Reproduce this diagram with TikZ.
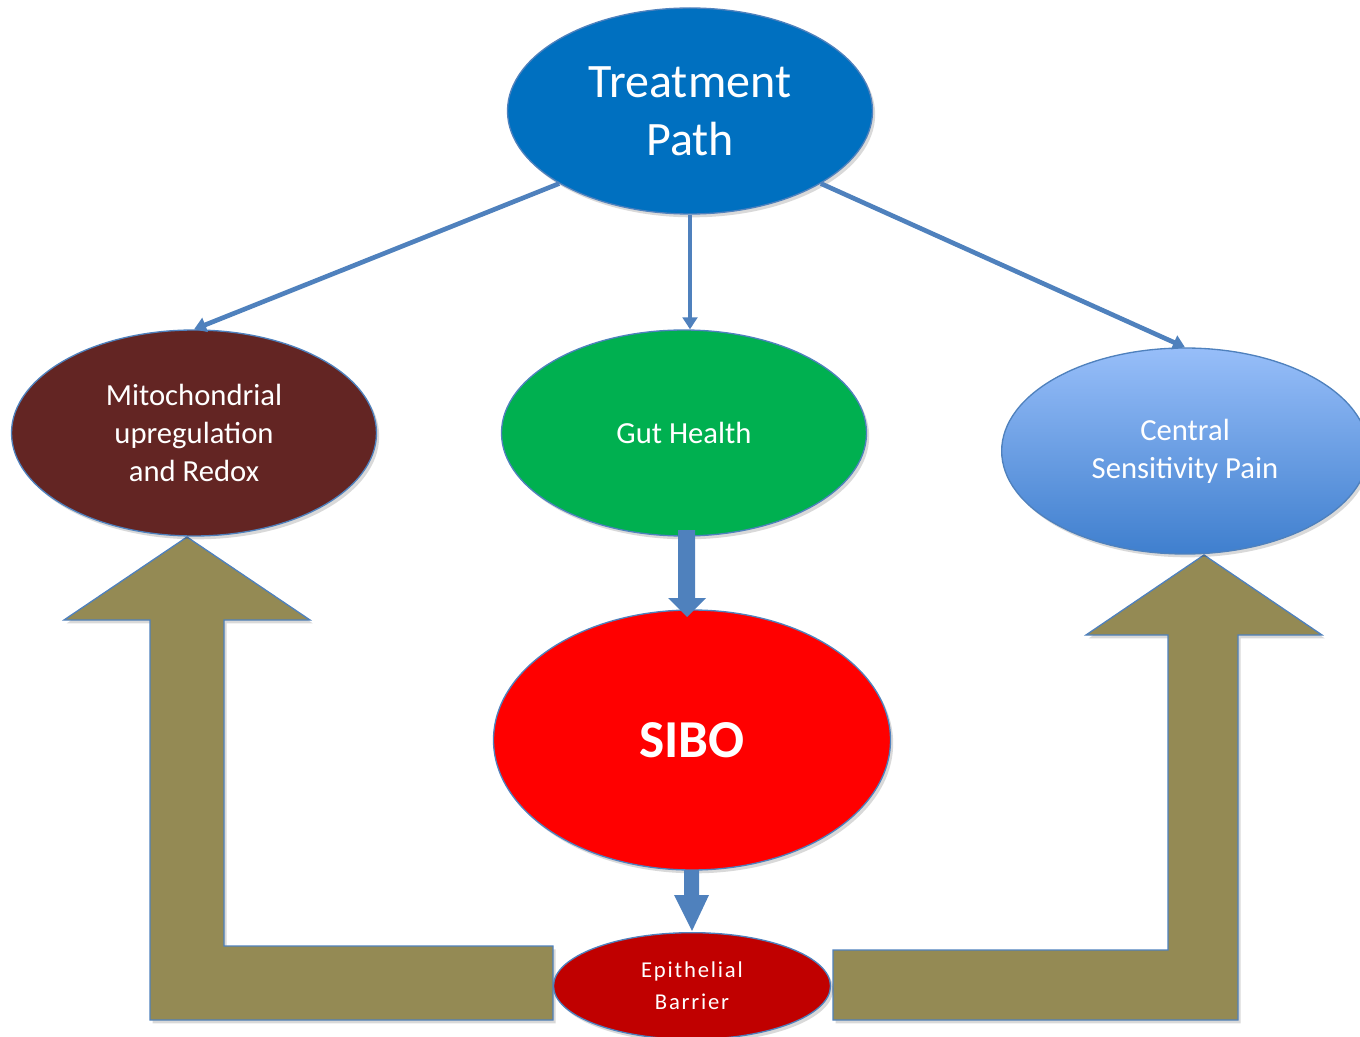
\documentclass[tikz,border=0pt]{standalone}
\usepackage{fontspec}
\setmainfont{Carlito}
\usetikzlibrary{shapes.geometric,arrows.meta,shadows}
\definecolor{tblue}{HTML}{0070C0}
\definecolor{mbrown}{HTML}{632523}
\definecolor{ggreen}{HTML}{00B050}
\definecolor{sred}{HTML}{FF0000}
\definecolor{ered}{HTML}{C00000}
\definecolor{lblue}{HTML}{4F81BD}
\definecolor{olivefill}{HTML}{948A54}
\definecolor{ctop}{HTML}{97BEF9}
\definecolor{cbot}{HTML}{3F7FCE}
\begin{document}
\begin{tikzpicture}[x=0.75pt,y=-0.75pt,
  softshadow/.style={drop shadow={shadow xshift=2pt,shadow yshift=-2.5pt,opacity=0.15,fill=black}},
  oval/.style={ellipse, draw=lblue, line width=1pt, inner sep=0pt, text=white, align=center,
    minimum width=273.75pt, minimum height=154.5pt, softshadow},
  midtext/.style={font=\fontsize{23}{28.5}\selectfont},
  conn/.style={draw=lblue, line width=3.5pt, -{Triangle[length=9pt,width=11pt]}},
  blockarrow/.style={fill=lblue},
  bentarrow/.style={fill=olivefill, draw=lblue, line width=1pt, line join=miter, softshadow}]
\useasboundingbox (0,0) rectangle (1360,1037);

% bent arrows
\path[bentarrow] (553,946) -- (224,946) -- (224,620) -- (310,620) -- (187,537) -- (64,620) -- (150,620) -- (150,1020) -- (553,1020) -- cycle;
\path[bentarrow] (833,950) -- (1168,950) -- (1168,635) -- (1086,635) -- (1204,555) -- (1322,635) -- (1238,635) -- (1238,1020) -- (833,1020) -- cycle;

% nodes
\node[oval, fill=tblue, font=\fontsize{36}{43.5}\selectfont] (T) at (690,111) {Treatment\\Path};
\node[oval, fill=mbrown, midtext] (M) at (194,433) {Mitochondrial\\upregulation\\and Redox};
\node[oval, fill=ggreen, midtext] (G) at (684,433) {Gut Health};
\node[oval, top color=ctop, bottom color=cbot, midtext, minimum width=275pt] (C) at (1185,451) {\raisebox{-2pt}{\parbox{5cm}{\centering Central\\Sensitivity Pain}}};
\node[oval, fill=sred, minimum width=297.75pt, minimum height=195pt, font=\fontsize{40}{48}\selectfont\bfseries] (S) at (692,740) {SIBO};
\node[oval, fill=ered, minimum width=207.75pt, minimum height=80pt, font=\fontsize{17}{24}\selectfont\addfontfeatures{LetterSpace=8}] (E) at (692,986) {Epithelial\\Barrier};

% connectors
\draw[conn] (T.209) -- (M.north);
\draw[conn] (T.south) -- (T.south |- G.north);
\draw[conn] (T.331) -- (C.north);

% block arrows
\path[blockarrow] (678,530) -- (695,530) -- (695,598) -- (706,598) -- (687,617) -- (668,598) -- (678,598) -- cycle;
\path[blockarrow] (684,870) -- (699,870) -- (699,895) -- (709,895) -- (692,931) -- (674,895) -- (684,895) -- cycle;
\end{tikzpicture}
\end{document}
